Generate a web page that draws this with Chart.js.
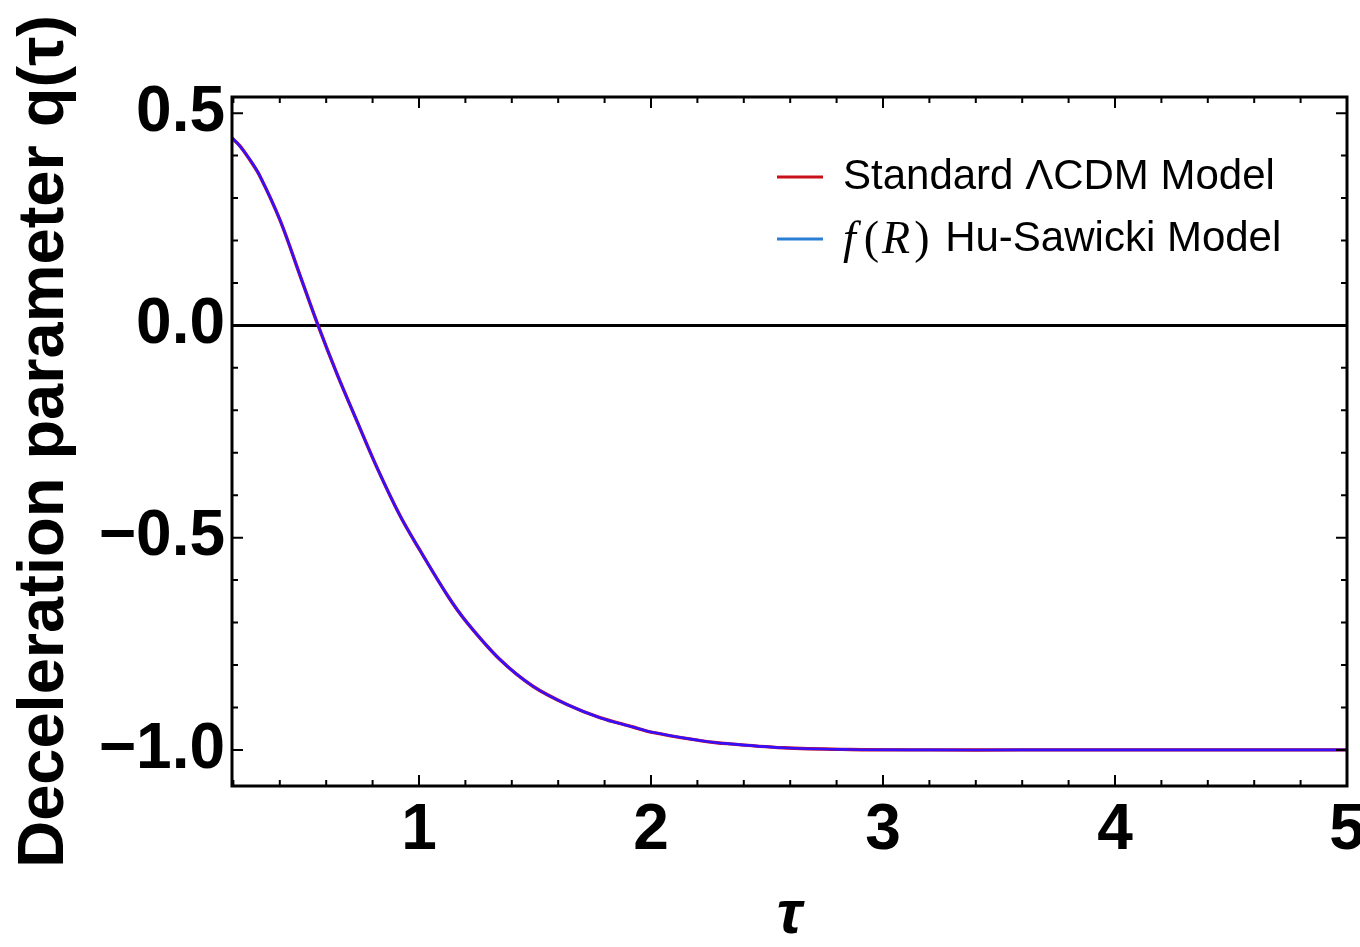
<!DOCTYPE html>
<html>
<head>
<meta charset="utf-8">
<script src="https://cdn.jsdelivr.net/npm/chart.js@4.4.1/dist/chart.umd.min.js"></script>
<style>
  html, body { margin: 0; padding: 0; background: #fff; }
  #wrap { width: 1360px; height: 947px; position: relative; }
</style>
</head>
<body>
<div id="wrap"><canvas id="myChart"></canvas></div>
<script>
// values
const tau = [0.194, 0.228, 0.272, 0.315, 0.401, 0.487, 0.565, 0.647, 0.733, 0.819, 0.918, 1.0, 1.125, 1.207, 1.349, 1.491, 1.638, 1.78, 1.922, 2.0, 2.211, 2.284, 2.569, 2.858, 3.2, 3.6, 4.0, 4.5, 5.0];
const qLCDM = [0.441, 0.423, 0.389, 0.351, 0.248, 0.118, 0.0, -0.115, -0.226, -0.335, -0.448, -0.526, -0.638, -0.700, -0.787, -0.850, -0.893, -0.924, -0.946, -0.958, -0.978, -0.983, -0.995, -0.999, -1.0, -1.0, -1.0, -1.0, -1.0];
const qHuSawicki = [0.443, 0.422, 0.390, 0.351, 0.248, 0.118, 0.0, -0.115, -0.226, -0.335, -0.448, -0.526, -0.638, -0.700, -0.787, -0.850, -0.893, -0.924, -0.946, -0.958, -0.978, -0.983, -0.995, -0.999, -1.0, -1.0, -1.0, -1.0, -1.0];

const xTicks = [1, 2, 3, 4, 5];
const yTicks = [-1.0, -0.5, 0.0, 0.5];
const xMinor = [0.2, 0.4, 0.6, 0.8, 1.2, 1.4, 1.6, 1.8, 2.2, 2.4, 2.6, 2.8, 3.2, 3.4, 3.6, 3.8, 4.2, 4.4, 4.6, 4.8];
const yMinor = [-0.9, -0.8, -0.7, -0.6, -0.4, -0.3, -0.2, -0.1, 0.1, 0.2, 0.3, 0.4];

const legendLabels = ['Standard \u039BCDM Model', 'f(R) Hu-Sawicki Model'];
const legendColors = ['#c81018', '#2a7fd4'];

const SANS = '"Liberation Sans", Arial, sans-serif';

const framePlugin = {
    id: 'frame',
    beforeDatasetsDraw(chart) {
        const { ctx, chartArea: a, scales: { y } } = chart;
        const y0 = y.getPixelForValue(0);
        ctx.save();
        ctx.strokeStyle = '#000';
        ctx.lineWidth = 3;
        ctx.beginPath();
        ctx.moveTo(a.left, y0);
        ctx.lineTo(a.right, y0);
        ctx.stroke();
        ctx.restore();
    },
    afterDatasetsDraw(chart) {
        const { ctx, chartArea: a, scales: { x, y } } = chart;
        ctx.save();
        ctx.strokeStyle = '#000';
        ctx.lineWidth = 2;
        const tick = (vals, len, horiz) => {
            vals.forEach(v => {
                ctx.beginPath();
                if (horiz) {
                    const px = x.getPixelForValue(v);
                    ctx.moveTo(px, a.bottom); ctx.lineTo(px, a.bottom - len);
                    ctx.moveTo(px, a.top); ctx.lineTo(px, a.top + len);
                } else {
                    const py = y.getPixelForValue(v);
                    ctx.moveTo(a.left, py); ctx.lineTo(a.left + len, py);
                    ctx.moveTo(a.right, py); ctx.lineTo(a.right - len, py);
                }
                ctx.stroke();
            });
        };
        tick(xTicks, 11, true);
        tick(xMinor, 6, true);
        tick(yTicks, 11, false);
        tick(yMinor, 6, false);

        ctx.lineWidth = 3;
        ctx.strokeRect(a.left, a.top, a.right - a.left, a.bottom - a.top);

        // legend
        const lx0 = a.right - 570, lx1 = a.right - 524, tx = a.right - 504;
        const rows = [a.top + 80, a.top + 142];
        ctx.textBaseline = 'middle';
        ctx.textAlign = 'left';
        rows.forEach((ry, i) => {
            ctx.strokeStyle = legendColors[i];
            ctx.lineWidth = 3;
            ctx.beginPath();
            ctx.moveTo(lx0, ry); ctx.lineTo(lx1, ry);
            ctx.stroke();
            ctx.fillStyle = '#000';
            let label = legendLabels[i];
            let cx = tx;
            if (label.startsWith('f(R)')) {
                const parts = [['f', 'italic', 8], ['(', 'normal', 3], ['R', 'italic', 4], [')', 'normal', 4]];
                parts.forEach(([s, st, gap]) => {
                    ctx.font = st + ' 46px "Liberation Serif", "DejaVu Serif", serif';
                    ctx.fillText(s, cx, ry + 2);
                    cx += ctx.measureText(s).width + gap;
                });
                label = label.slice(4);
            }
            ctx.font = '42px ' + SANS;
            ctx.fillText(label, cx, ry);
        });
        ctx.restore();
    }
};

const ctx = document.getElementById('myChart');
new Chart(ctx, {
    type: 'line',
    data: {
        datasets: [
            {
                label: legendLabels[0],
                data: tau.map((t, i) => ({ x: t, y: qLCDM[i] })),
                borderColor: '#d0101a',
                borderWidth: 3.4,
                pointRadius: 0,
                tension: 0.35,
                order: 2
            },
            {
                label: legendLabels[1],
                data: tau.map((t, i) => ({ x: t, y: qHuSawicki[i] })),
                borderColor: '#3510ff',
                borderWidth: 2.6,
                pointRadius: 0,
                tension: 0.35,
                order: 1
            }
        ]
    },
    options: {
        responsive: true,
        maintainAspectRatio: false,
        animation: false,
        layout: { padding: { top: 97, right: 13, left: 0, bottom: 0 } },
        plugins: { legend: { display: false }, tooltip: { enabled: false } },
        scales: {
            x: {
                type: 'linear',
                min: 0.194,
                max: 5,
                grid: { display: false, drawTicks: false },
                border: { display: false },
                afterBuildTicks: s => { s.ticks = xTicks.map(v => ({ value: v })); },
                afterFit: s => { s.height = 161; s.paddingLeft = 0; s.paddingRight = 0; },
                ticks: {
                    padding: 7,
                    color: '#000',
                    maxRotation: 0,
                    font: { family: SANS, size: 64, weight: 'bold' },
                    callback: v => String(v)
                },
                title: {
                    display: true,
                    text: '\u03C4',
                    color: '#000',
                    padding: { top: 0, bottom: 0 },
                    font: { family: SANS, size: 62, weight: 'bold', style: 'italic', lineHeight: 1 }
                }
            },
            y: {
                type: 'linear',
                min: -1.085,
                max: 0.538,
                grid: { display: false, drawTicks: false },
                border: { display: false },
                afterBuildTicks: s => { s.ticks = yTicks.map(v => ({ value: v })); },
                afterFit: s => { s.width = 232; s.paddingTop = 0; s.paddingBottom = 0; },
                ticks: {
                    padding: 7,
                    color: '#000',
                    font: { family: SANS, size: 64, weight: 'bold' },
                    callback: v => (v < 0 ? '\u2212' : '') + Math.abs(v).toFixed(1)
                },
                title: {
                    display: true,
                    text: 'Deceleration parameter q(\u03C4)',
                    color: '#000',
                    padding: { top: 6, bottom: 0 },
                    font: { family: SANS, size: 65, weight: 'bold' }
                }
            }
        }
    },
    plugins: [framePlugin]
});
</script>
</body>
</html>
